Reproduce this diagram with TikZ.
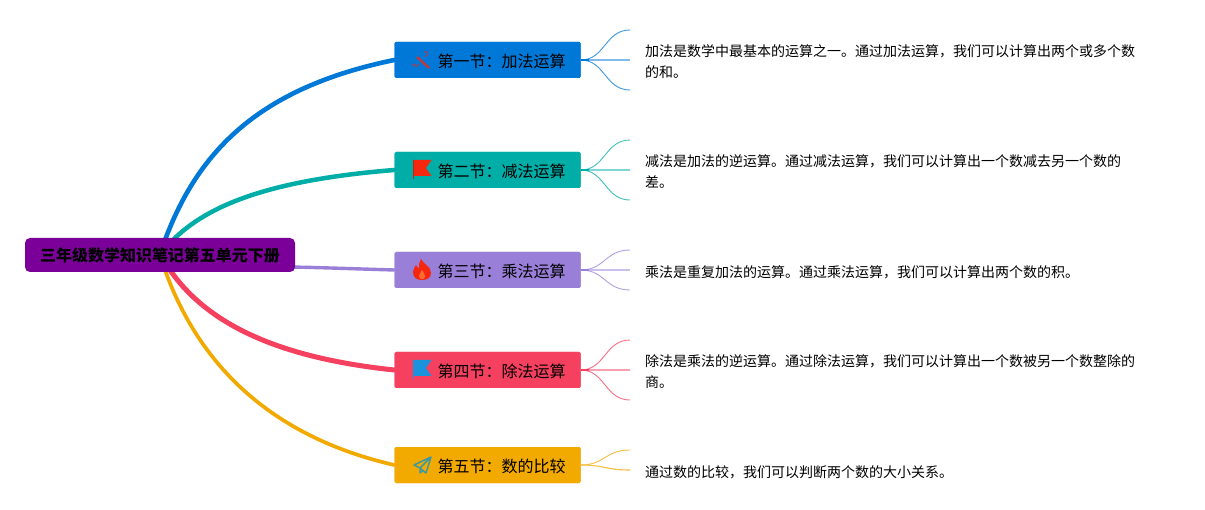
\documentclass[tikz,border=0pt]{standalone}
\usepackage{fontspec}
\setmainfont{Noto Sans CJK SC}
\definecolor{cRoot}{HTML}{7B0099}
\definecolor{cA}{HTML}{0078D7}
\definecolor{cB}{HTML}{00ADA7}
\definecolor{cC}{HTML}{9A7FD9}
\definecolor{cD}{HTML}{F5405F}
\definecolor{cE}{HTML}{F2A900}
\definecolor{flagRed}{HTML}{F5280F}
\definecolor{flagBlue}{HTML}{1A93DC}
\definecolor{wand}{HTML}{C0393F}
\definecolor{plane}{HTML}{3E9AA0}
\tikzset{
  x=1pt,y=-1pt,
  rootbox/.style={draw=none,fill=cRoot,rounded corners=5pt,minimum width=270pt,minimum height=34pt,inner sep=0pt,font=\fontsize{16pt}{19pt}\selectfont\bfseries},
  secbox/.style={fill=#1,rounded corners=1.5pt,minimum width=186pt,minimum height=36pt,inner sep=0pt},
  sectext/.style={anchor=west,inner sep=0pt,font=\fontsize{16pt}{19pt}\selectfont,text=black},
  detail/.style={anchor=west,inner sep=0pt,align=left,font=\fontsize{14pt}{21pt}\selectfont,text=black},
  trunk/.style={line cap=round,draw=#1},
  fan/.style={line width=0.9pt,draw=#1!75!white},
  midfan/.style={line width=1.6pt,draw=#1!50!white},
  stub/.style={line width=2pt,draw=#1},
}
\begin{document}
\begin{tikzpicture}
\useasboundingbox (0,0) rectangle (1205,510);
\fill[white] (0,0) rectangle (1205,510);
\coordinate (hubA) at (165,240);
\coordinate (hubB) at (173,240);
\coordinate (hubC) at (290,267);
\coordinate (hubD) at (170,270);
\coordinate (hubE) at (165,270);
\node[secbox=cA] (s1) at (487.5,60) {};
\node[secbox=cB] (s2) at (487.5,170) {};
\node[secbox=cC] (s3) at (487.5,270) {};
\node[secbox=cD] (s4) at (487.5,370) {};
\node[secbox=cE] (s5) at (487.5,465) {};
\draw[trunk=cA,line width=4.6pt] (hubA) .. controls (198,152) and (258,88) .. (s1.west);
\draw[trunk=cB,line width=4.5pt] (hubB) .. controls (208,205) and (270,180) .. (s2.west);
\draw[trunk=cC,line width=3.4pt] (hubC) .. controls (320,267.5) and (360,269) .. (s3.west);
\draw[trunk=cD,line width=5pt] (hubD) .. controls (208,325) and (280,358) .. (s4.west);
\draw[trunk=cE,line width=3.7pt] (hubE) .. controls (198,362) and (268,436) .. (s5.west);
\node[rootbox] (root) at (160,255) {三年级数学知识笔记第五单元下册};
\node[secbox=cA] at (s1) {};
\node[secbox=cB] at (s2) {};
\node[secbox=cC] at (s3) {};
\node[secbox=cD] at (s4) {};
\node[secbox=cE] at (s5) {};
\node[sectext] (t1) at (437.5,61) {第一节：加法运算};
\node[sectext] (t2) at (437.5,171) {第二节：减法运算};
\node[sectext] (t3) at (437.5,271) {第三节：乘法运算};
\node[sectext] (t4) at (437.5,371) {第四节：除法运算};
\node[sectext] (t5) at (437.5,466) {第五节：数的比较};
\coordinate (a1) at (630,30); \coordinate (a2) at (630,60); \coordinate (a3) at (630,90);
\coordinate (b1) at (630,140); \coordinate (b2) at (630,170); \coordinate (b3) at (630,200);
\coordinate (c1) at (630,250); \coordinate (c2) at (630,270); \coordinate (c3) at (630,290);
\coordinate (d1) at (630,340); \coordinate (d2) at (630,370); \coordinate (d3) at (630,400);
\coordinate (e1) at (630,450); \coordinate (e2) at (630,470);
\draw[midfan=cA] (s1.east) -- (a2);
\draw[fan=cA] (s1.east) .. controls (605,60) and (605,30) .. (a1);
\draw[fan=cA] (s1.east) .. controls (605,60) and (605,90) .. (a3);
\draw[stub=cA] (s1.east) -- ++(8,0);
\draw[midfan=cB] (s2.east) -- (b2);
\draw[fan=cB] (s2.east) .. controls (605,170) and (605,140) .. (b1);
\draw[fan=cB] (s2.east) .. controls (605,170) and (605,200) .. (b3);
\draw[stub=cB] (s2.east) -- ++(8,0);
\draw[midfan=cC] (s3.east) -- (c2);
\draw[fan=cC] (s3.east) .. controls (605,270) and (605,250) .. (c1);
\draw[fan=cC] (s3.east) .. controls (605,270) and (605,290) .. (c3);
\draw[stub=cC] (s3.east) -- ++(8,0);
\draw[midfan=cD] (s4.east) -- (d2);
\draw[fan=cD] (s4.east) .. controls (605,370) and (605,340) .. (d1);
\draw[fan=cD] (s4.east) .. controls (605,370) and (605,400) .. (d3);
\draw[stub=cD] (s4.east) -- ++(8,0);
\draw[fan=cE] (s5.east) .. controls (605,465) and (605,450) .. (e1);
\draw[fan=cE,line width=1.1pt] (s5.east) .. controls (605,465) and (605,470) .. (e2);
\node[detail] (n1) at (645,62) {加法是数学中最基本的运算之一。通过加法运算，我们可以计算出两个或多个数\\的和。};
\node[detail] (n2) at (645,172) {减法是加法的逆运算。通过减法运算，我们可以计算出一个数减去另一个数的\\差。};
\node[detail] (n3) at (645,272) {乘法是重复加法的运算。通过乘法运算，我们可以计算出两个数的积。};
\node[detail] (n4) at (645,372) {除法是乘法的逆运算。通过除法运算，我们可以计算出一个数被另一个数整除的\\商。};
\node[detail] (n5) at (645,472) {通过数的比较，我们可以判断两个数的大小关系。};
\begin{scope}[shift={(422,60)}]
\draw[line width=2.4pt,draw=wand] (-5,-3) -- (7,8);
\fill[wand] (-8,5) circle (1.7);
\fill[wand] (4,-8) circle (1.3);
\draw[line width=1pt,draw=wand] (-3,4) -- (-6,7);
\draw[line width=1pt,draw=wand] (3,-3) -- (6,-6);
\end{scope}
\begin{scope}[shift={(422,170)}]
\fill[flagRed] (-9,-10) -- (9.5,-10) -- (4,-2) -- (9.5,6) -- (-9,6) -- cycle;
\draw[line width=1pt,draw=flagRed!80!black] (-9,-10) -- (-9,9);
\end{scope}
\begin{scope}[shift={(422,270)}]
\fill[flagRed] (-1,-11) .. controls (2,-5) and (9,-4) .. (9,3) .. controls (9,8) and (5,10) .. (0,10) .. controls (-5,10) and (-9,8) .. (-9,2) .. controls (-9,-1) and (-7,-3) .. (-6,-5) .. controls (-5,-3) and (-4,-2) .. (-3,-2) .. controls (-3,-5) and (-3,-8) .. (-1,-11) -- cycle;
\fill[orange!55!red!80] (0,0) .. controls (1,3) and (4,4) .. (3,7) .. controls (2,10) and (-3,10) .. (-3,6) .. controls (-3,4) and (-1,3) .. (0,0) -- cycle;
\end{scope}
\begin{scope}[shift={(422,370)}]
\fill[flagBlue] (-9,-10) -- (9.5,-10) -- (4,-2) -- (9.5,6) -- (-9,6) -- cycle;
\draw[line width=1pt,draw=flagBlue] (-9,-10) -- (-9,9);
\end{scope}
\begin{scope}[shift={(422,465)}]
\draw[line width=1.5pt,draw=plane,line join=round] (9,-8) -- (-8,0) -- (-2,3) -- (9,-8) -- (4,8) -- (-2,3) -- (-2,8) -- (1,5.5);
\end{scope}
\end{tikzpicture}
\end{document}
